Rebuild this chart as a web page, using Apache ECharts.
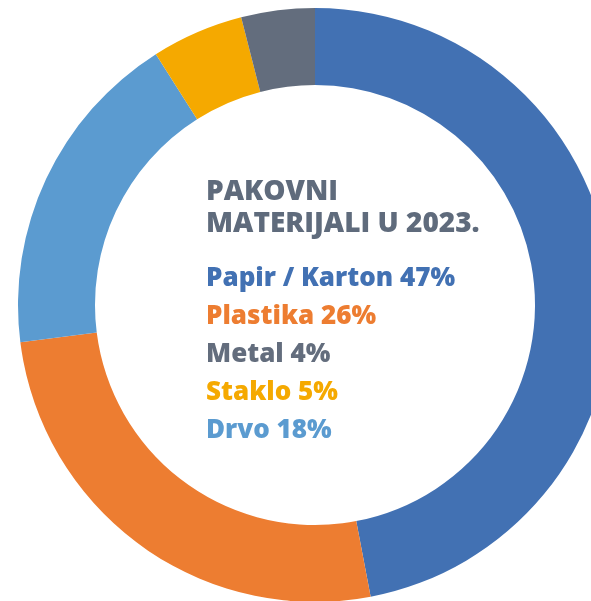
<!DOCTYPE html>
<html>
<head>
<meta charset="utf-8">
<script src="https://cdn.jsdelivr.net/npm/echarts@6/dist/echarts.min.js"></script>
<style>
    html, body { margin: 0; padding: 0; background: #ffffff; }
    #chart { width: 591px; height: 601px; }
</style>
</head>
<body>
<div id="chart"></div>
<script>
    // ring order, clockwise from 12 o'clock
    var names = ['Papir / Karton', 'Plastika', 'Drvo', 'Staklo', 'Metal'];
    var values = [47, 26, 18, 5, 4];
    var colors = ['#4271b3', '#ed7d31', '#5b9bd0', '#f5a900', '#636d7d'];
    // order of the lines in the middle
    var listOrder = ['Papir / Karton', 'Plastika', 'Metal', 'Staklo', 'Drvo'];

    var rich = {};
    var lines = listOrder.map(function (n, k) {
        var i = names.indexOf(n);
        rich['c' + k] = {
            color: colors[i],
            fontSize: 26,
            fontWeight: 800,
            fontFamily: 'Open Sans',
            lineHeight: 38
        };
        return '{c' + k + '|' + n + ' ' + values[i] + '%}';
    });

    echarts.init(document.getElementById('chart')).setOption({
        animation: false,
        title: [{
            text: 'PAKOVNI\nMATERIJALI U 2023.',
            left: 206,
            top: 176,
            padding: 0,
            textStyle: {
                color: '#5f6b7c',
                fontSize: 28,
                fontWeight: 800,
                fontFamily: 'Open Sans',
                lineHeight: 31.7
            }
        }, {
            text: lines.join('\n'),
            left: 206,
            top: 260,
            padding: 0,
            textStyle: {rich: rich}
        }],
        series: [
            {
                type: 'pie',
                center: [315, 305],
                radius: [220, 297],
                startAngle: 90,
                clockwise: true,
                label: {show: false},
                labelLine: {show: false},
                silent: true,
                data: names.map(function (n, i) {
                    return {name: n, value: values[i], itemStyle: {color: colors[i]}};
                })
            }
        ]
    });
</script>
</body>
</html>
